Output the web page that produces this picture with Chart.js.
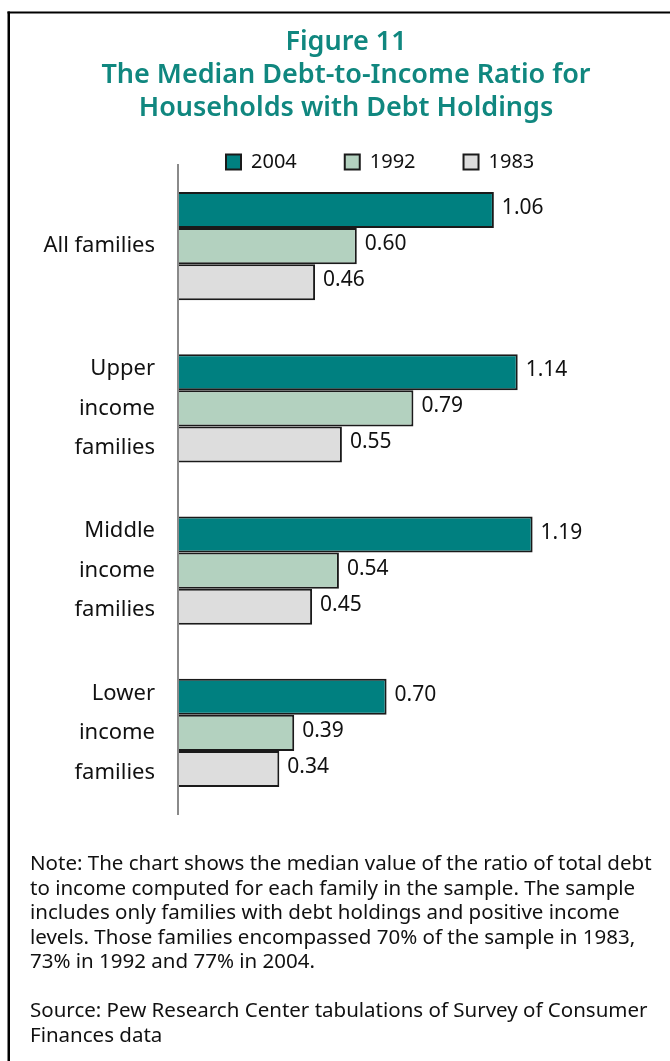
<!DOCTYPE html>
<html>
<head>
<meta charset="utf-8">
<script src="https://cdn.jsdelivr.net/npm/chart.js@4.4.1/dist/chart.umd.min.js"></script>
<style>
  html, body { margin: 0; padding: 0; background: #fff; }
  #wrap { width: 670px; height: 1061px; }
  canvas { display: block; background: #fff; }
</style>
</head>
<body>
<div id="wrap"><canvas id="c" width="670" height="1061"></canvas></div>
<script>
// Household groups (multi-line axis labels)
const categories = [
  ['All families'],
  ['Upper', 'income', 'families'],
  ['Middle', 'income', 'families'],
  ['Lower', 'income', 'families']
];
const years = ['2004', '1992', '1983'];

// Median debt-to-income ratio by survey year
const values2004 = [1.06, 1.14, 1.19, 0.70];
const values1992 = [0.60, 0.79, 0.54, 0.39];
const values1983 = [0.46, 0.55, 0.45, 0.34];

const titleLines = [
  'Figure 11',
  'The Median Debt-to-Income Ratio for',
  'Households with Debt Holdings'
];
const noteLines = [
  'Note: The chart shows the median value of the ratio of total debt',
  'to income computed for each family in the sample. The sample',
  'includes only families with debt holdings and positive income',
  'levels. Those families encompassed 70% of the sample in 1983,',
  '73% in 1992 and 77% in 2004.',
  '',
  'Source: Pew Research Center tabulations of Survey of Consumer',
  'Finances data'
];

const FONT = '"Noto Sans", "DejaVu Sans", sans-serif';

// Black frame along the top and left edges
const framePlugin = {
  id: 'frame',
  beforeDraw(chart) {
    const c = chart.ctx;
    c.save();
    c.fillStyle = '#000';
    c.fillRect(7.5, 11.5, 670, 2);
    c.fillRect(7.5, 11.5, 2.5, 1061);
    c.restore();
  }
};

// The legend row sits level with the top of the axis line, so let its
// drawing region reach a little below the plot's top edge.
const legendRoomPlugin = {
  id: 'legendRoom',
  afterLayout(chart) {
    if (chart.legend) chart.legend.bottom = chart.legend.top + 80;
  }
};

// Value printed to the right of each bar
const valueLabelPlugin = {
  id: 'valueLabels',
  afterDatasetsDraw(chart) {
    const c = chart.ctx;
    c.save();
    c.font = '21px ' + FONT;
    c.fillStyle = '#111';
    c.textAlign = 'left';
    c.textBaseline = 'middle';
    chart.data.datasets.forEach((ds, di) => {
      chart.getDatasetMeta(di).data.forEach((bar, i) => {
        c.fillText(ds.data[i].toFixed(2), bar.x + 8, bar.y - 2);
      });
    });
    c.restore();
  }
};

new Chart(document.getElementById('c'), {
  type: 'bar',
  data: {
    labels: categories,
    datasets: [
      { label: years[0], data: values2004, backgroundColor: '#008080' },
      { label: years[1], data: values1992, backgroundColor: '#b3d1bf' },
      { label: years[2], data: values1983, backgroundColor: '#dddddd' }
    ]
  },
  options: {
    responsive: false,
    animation: false,
    indexAxis: 'y',
    layout: { padding: { left: 30, right: 8, top: 0, bottom: 0 } },
    datasets: {
      bar: {
        borderColor: '#1a1a1a',
        borderWidth: 2,
        barPercentage: 1,
        categoryPercentage: 0.666
      }
    },
    scales: {
      x: { display: false, min: 0, max: 1.6242 },
      y: {
        grid: { display: false, drawTicks: false },
        border: { display: true, color: '#8a8a8a', width: 2, z: 1 },
        ticks: {
          padding: 23,
          color: '#111',
          font: { family: FONT, size: 22, lineHeight: '39.5px' }
        },
        afterFit(scale) { scale.width = 148; }
      }
    },
    plugins: {
      title: {
        display: true,
        text: titleLines,
        color: '#10877f',
        font: { family: FONT, size: 27, weight: '600', lineHeight: '33px' },
        padding: { top: 25.5, bottom: -20.5 }
      },
      legend: {
        display: true,
        position: 'top',
        align: 'start',
        fullSize: false,
        maxHeight: 61,
        labels: {
          boxWidth: 15,
          boxHeight: 15,
          padding: 48,
          color: '#111',
          font: { family: FONT, size: 20 }
        }
      },
      subtitle: {
        display: true,
        position: 'bottom',
        align: 'start',
        text: noteLines,
        color: '#111',
        font: { family: FONT, size: 20.5, lineHeight: '24.5px' },
        padding: { top: 38.35, bottom: 12.65 }
      },
      tooltip: { enabled: false }
    }
  },
  plugins: [framePlugin, legendRoomPlugin, valueLabelPlugin]
});
</script>
</body>
</html>
